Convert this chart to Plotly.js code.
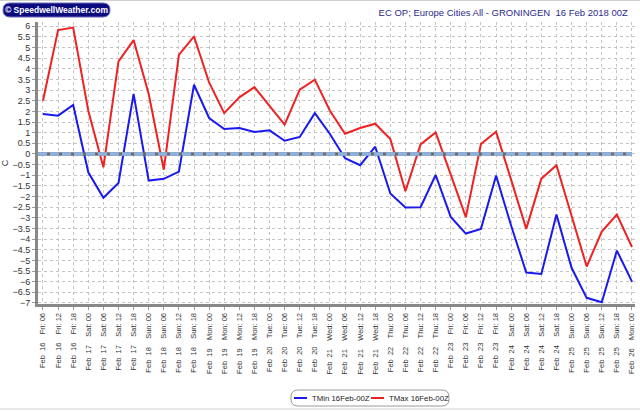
<!DOCTYPE html>
<html>
<head>
<meta charset="utf-8">
<script src="https://cdn.plot.ly/plotly-3.0.1.min.js"></script>
<style>html,body{margin:0;padding:0;background:#fff}#chart{width:640px;height:411px}</style>
</head>
<body>
<div id="chart"></div>
<script>
var A = '\u00a0\u00a0', S = '\u00a0\u00a0\u00a0\u00a0';
var categories = [
 'Feb'+A+'16'+S+'Fri: 06','Feb'+A+'16'+S+'Fri: 12','Feb'+A+'16'+S+'Fri: 18',
 'Feb'+A+'17'+S+'Sat: 00','Feb'+A+'17'+S+'Sat: 06','Feb'+A+'17'+S+'Sat: 12','Feb'+A+'17'+S+'Sat: 18',
 'Feb'+A+'18'+S+'Sun: 00','Feb'+A+'18'+S+'Sun: 06','Feb'+A+'18'+S+'Sun: 12','Feb'+A+'18'+S+'Sun: 18',
 'Feb'+A+'19'+S+'Mon: 00','Feb'+A+'19'+S+'Mon: 06','Feb'+A+'19'+S+'Mon: 12','Feb'+A+'19'+S+'Mon: 18',
 'Feb'+A+'20'+S+'Tue: 00','Feb'+A+'20'+S+'Tue: 06','Feb'+A+'20'+S+'Tue: 12','Feb'+A+'20'+S+'Tue: 18',
 'Feb'+A+'21'+S+'Wed: 00','Feb'+A+'21'+S+'Wed: 06','Feb'+A+'21'+S+'Wed: 12','Feb'+A+'21'+S+'Wed: 18',
 'Feb'+A+'22'+S+'Thu: 00','Feb'+A+'22'+S+'Thu: 06','Feb'+A+'22'+S+'Thu: 12','Feb'+A+'22'+S+'Thu: 18',
 'Feb'+A+'23'+S+'Fri: 00','Feb'+A+'23'+S+'Fri: 06','Feb'+A+'23'+S+'Fri: 12','Feb'+A+'23'+S+'Fri: 18',
 'Feb'+A+'24'+S+'Sat: 00','Feb'+A+'24'+S+'Sat: 06','Feb'+A+'24'+S+'Sat: 12','Feb'+A+'24'+S+'Sat: 18',
 'Feb'+A+'25'+S+'Sun: 00','Feb'+A+'25'+S+'Sun: 06','Feb'+A+'25'+S+'Sun: 12','Feb'+A+'25'+S+'Sun: 18',
 'Feb'+A+'26'+S+'Mon: 00'
];
var tmin = [1.88,1.80,2.30,-0.86,-2.06,-1.36,2.82,-1.25,-1.17,-0.83,
            3.25,1.69,1.17,1.22,1.03,1.11,0.62,0.80,1.92,0.94,
            -0.20,-0.53,0.34,-1.86,-2.52,-2.50,-0.99,-2.96,-3.74,-3.52,
            -1.02,-3.37,-5.57,-5.64,-2.85,-5.35,-6.76,-6.97,-4.54,-6.00];
var tmax = [2.50,5.82,5.94,2.03,-0.63,4.35,5.35,2.82,-0.74,4.65,
            5.52,3.36,1.92,2.66,3.14,2.27,1.38,3.02,3.49,2.03,
            0.95,1.22,1.42,0.70,-1.75,0.45,1.01,-0.97,-2.97,0.47,
            1.05,-1.22,-3.52,-1.16,-0.53,-2.90,-5.29,-3.65,-2.85,-4.37];
var seriesNames = ['TMin 16Feb-00Z','TMax 16Feb-00Z'];
var seriesColors = ['#1a1aee','#ee2222'];
var titleText = 'EC OP; Europe Cities All - GRONINGEN\u00a0\u00a016 Feb 2018 00Z';
var logoText = '\u00a9 SpeedwellWeather.com';

var traces = [
  {x: categories, y: tmin, name: seriesNames[0], type: 'scatter', mode: 'lines',
   line: {color: seriesColors[0], width: 2}, showlegend: false},
  {x: categories, y: tmax, name: seriesNames[1], type: 'scatter', mode: 'lines',
   line: {color: seriesColors[1], width: 2}, showlegend: false}
];

// pixel -> paper helpers for decoration
var L = 38, R = 635, T = 22, B = 304;
function px(x){ return (x - L) / (R - L); }
function py(y){ return (B - y) / (B - T); }
function roundRect(ax, ay, bx, by, r){
  var x0 = px(ax), x1 = px(bx), y0 = py(by), y1 = py(ay);
  var rx = r / (R - L), ry = r / (B - T);
  return 'M ' + (x0+rx) + ',' + y1 + ' L ' + (x1-rx) + ',' + y1 +
    ' Q ' + x1 + ',' + y1 + ' ' + x1 + ',' + (y1-ry) + ' L ' + x1 + ',' + (y0+ry) +
    ' Q ' + x1 + ',' + y0 + ' ' + (x1-rx) + ',' + y0 + ' L ' + (x0+rx) + ',' + y0 +
    ' Q ' + x0 + ',' + y0 + ' ' + x0 + ',' + (y0+ry) + ' L ' + x0 + ',' + (y1-ry) +
    ' Q ' + x0 + ',' + y1 + ' ' + (x0+rx) + ',' + y1 + ' Z';
}

var legendItems = [{lx: 294, tx: 311}, {lx: 371, tx: 388}];
var shapes = [
  {type: 'line', xref: 'paper', yref: 'y', x0: 0, x1: 0.995, y0: 0, y1: 0,
   line: {color: '#6c6c6c', width: 3.5}, layer: 'above'},
  {type: 'line', xref: 'paper', yref: 'y', x0: 0, x1: 0.995, y0: 0, y1: 0,
   line: {color: '#8db3e2', width: 3.5, dash: '9px,3px'}, layer: 'above'},
  {type: 'path', xref: 'paper', yref: 'paper', path: roundRect(3, 3, 110, 17, 7),
   fillcolor: '#0b0b7e', line: {color: '#6a6ab8', width: 1}, layer: 'above'},
  {type: 'path', xref: 'paper', yref: 'paper', path: roundRect(291, 390, 449, 406, 7),
   fillcolor: '#ffffff', line: {color: '#9a9a9a', width: 1}, layer: 'above'},
  {type: 'line', xref: 'paper', yref: 'paper', x0: px(0), x1: px(640), y0: py(0.5), y1: py(0.5),
   line: {color: '#d0d0d0', width: 1}},
  {type: 'line', xref: 'paper', yref: 'paper', x0: px(0), x1: px(640), y0: py(409), y1: py(409),
   line: {color: '#d0d0d0', width: 1}}
];
var annotations = [
  {text: logoText, xref: 'paper', yref: 'paper', x: px(56.5), y: py(10), xanchor: 'center',
   yanchor: 'middle', showarrow: false,
   font: {family: 'Liberation Sans, Arial, sans-serif', size: 8.5, color: '#ffffff', weight: 'bold'}}
];
seriesNames.forEach(function(n, i){
  var it = legendItems[i];
  shapes.push({type: 'line', xref: 'paper', yref: 'paper', x0: px(it.lx), x1: px(it.lx + 13),
    y0: py(398), y1: py(398), line: {color: seriesColors[i], width: 2}, layer: 'above'});
  annotations.push({text: n, xref: 'paper', yref: 'paper', x: px(it.tx), y: py(398),
    xanchor: 'left', yanchor: 'middle', showarrow: false, xshift: -1,
    font: {family: 'Liberation Sans, Arial, sans-serif', size: 7.8, color: '#222'}});
});

var layout = {
  width: 640, height: 411,
  margin: {l: L, r: 640 - R, t: T, b: 411 - B, pad: 0},
  paper_bgcolor: '#ffffff', plot_bgcolor: '#ffffff',
  font: {family: 'Liberation Sans, Arial, sans-serif', size: 9, color: '#222'},
  title: {text: titleText, x: 0.981, xanchor: 'right', y: 0.968, yanchor: 'middle',
          font: {family: 'Liberation Sans, Arial, sans-serif', size: 9.5, color: '#2a2a8a'}},
  showlegend: false,
  xaxis: {type: 'category', range: [-0.33, 39.2], tickangle: -90,
          showgrid: true, gridcolor: '#c4c4c4', griddash: 'dot', gridwidth: 1,
          showline: true, linecolor: '#888', linewidth: 3, mirror: false,
          ticks: 'outside', ticklen: 3, tickcolor: '#999',
          tickfont: {size: 7.5, color: '#333'}, zeroline: false, fixedrange: true},
  yaxis: {range: [-7.05, 6.2], dtick: 0.5, tick0: 0,
          title: {text: 'C', font: {size: 9, color: '#333'}, standoff: 6},
          showgrid: true, gridcolor: '#c4c4c4', griddash: 'dot', gridwidth: 1,
          showline: true, linecolor: '#888', linewidth: 3,
          ticks: 'outside', ticklen: 3, tickcolor: '#999',
          tickfont: {size: 9, color: '#333'}, zeroline: false, fixedrange: true},
  shapes: shapes,
  annotations: annotations
};

Plotly.newPlot('chart', traces, layout, {displayModeBar: false, staticPlot: true});
</script>
</body>
</html>
